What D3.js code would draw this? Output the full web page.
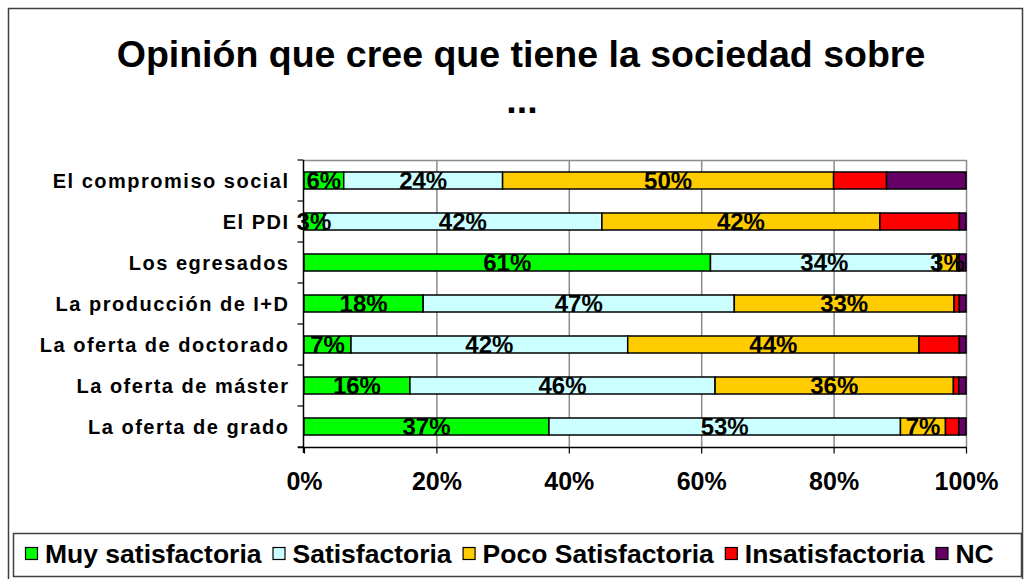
<!DOCTYPE html>
<html>
<head>
<meta charset="utf-8">
<script src="https://cdn.jsdelivr.net/npm/d3@7"></script>
<style>
  body { margin: 0; background: #fff; }
  svg { display: block; }
  text { font-family: "Liberation Sans", Arial, sans-serif; font-weight: bold; fill: #000; }
</style>
</head>
<body>
<div id="graph"></div>
<script>
// categories from top to bottom
var categories = ["El compromiso social", "El PDI", "Los egresados", "La producción de I+D",
                  "La oferta de doctorado", "La oferta de máster", "La oferta de grado"];
var seriesNames = ["Muy satisfactoria", "Satisfactoria", "Poco Satisfactoria", "Insatisfactoria", "NC"];
var seriesColors = ["#00ff00", "#ccffff", "#ffcc00", "#ff0000", "#660066"];
// percentages per category, one array per series
var muySatisfactoria = [6, 3, 61.4, 18, 7.1, 16, 37];
var satisfactoria    = [24, 42, 34.4, 47, 41.8, 46.1, 53.1];
var pocoSatisfactoria = [50, 42, 2.8, 33.2, 44, 36, 6.8];
var insatisfactoria  = [8, 12, 0.4, 0.8, 6.1, 0.8, 2];
var nc               = [12, 1, 1, 1, 1, 1.1, 1.1];
var tickValues = [0, 20, 40, 60, 80, 100];
var labelledSeries = 3; // only the first three series carry value labels

var width = 1025, height = 579;
var margin = {top: 160, left: 304, right: 59, bottom: 132};

var rows = categories.map(function(c, i) {
    return {cat: c, values: [muySatisfactoria[i], satisfactoria[i], pocoSatisfactoria[i], insatisfactoria[i], nc[i]]};
});

var svg = d3.select("#graph").append("svg")
    .attr("width", width)
    .attr("height", height);

// outer chart border
svg.append("rect")
    .attr("x", 8.5).attr("y", 8.5)
    .attr("width", 1014).attr("height", 600)
    .attr("fill", "none").attr("stroke", "#404040").attr("stroke-width", 1.5);

// title
svg.append("text")
    .attr("x", 521).attr("y", 67)
    .attr("text-anchor", "middle")
    .style("font-size", "37.5px")
    .text("Opinión que cree que tiene la sociedad sobre");
svg.append("text")
    .attr("x", 522).attr("y", 113)
    .attr("text-anchor", "middle")
    .style("font-size", "37.5px")
    .text("...");

var x = d3.scaleLinear().domain([0, 100]).range([margin.left, width - margin.right]);
var y = d3.scaleBand().domain(categories).range([margin.top, height - margin.bottom]).paddingInner(0.585).paddingOuter(0.2925);

// gridlines
svg.append("g")
    .selectAll("line")
    .data(tickValues.slice(1))
    .enter().append("line")
    .attr("x1", function(d) { return x(d) + 0.5; })
    .attr("x2", function(d) { return x(d) + 0.5; })
    .attr("y1", margin.top)
    .attr("y2", height - margin.bottom)
    .attr("stroke", "#8c8c8c").attr("stroke-width", 1.5);
svg.append("line")
    .attr("x1", margin.left).attr("x2", width - margin.right + 1)
    .attr("y1", margin.top + 0.5).attr("y2", margin.top + 0.5)
    .attr("stroke", "#8c8c8c").attr("stroke-width", 1.5);

// stacked bars
var cum = rows.map(function(r) {
    var acc = 0;
    return r.values.map(function(v, k) {
        var s = {cat: r.cat, k: k, x0: acc, x1: acc + v, v: v};
        acc += v;
        return s;
    });
});

var rowG = svg.append("g").selectAll("g")
    .data(cum)
    .enter().append("g");

rowG.selectAll("rect")
    .data(function(d) { return d; })
    .enter().append("rect")
    .attr("x", function(d) { return x(d.x0); })
    .attr("width", function(d) { return x(d.x1) - x(d.x0); })
    .attr("y", function(d) { return y(d.cat); })
    .attr("height", y.bandwidth())
    .attr("fill", function(d) { return seriesColors[d.k]; })
    .attr("stroke", "#000").attr("stroke-width", 1.5);

rowG.selectAll("text")
    .data(function(d) { return d.filter(function(s) { return s.k < labelledSeries; }); })
    .enter().append("text")
    .attr("x", function(d) { return (x(d.x0) + x(d.x1)) / 2; })
    .attr("y", function(d) { return y(d.cat) + y.bandwidth() / 2 + 8.5; })
    .attr("text-anchor", "middle")
    .style("font-size", "24px")
    .text(function(d) { return Math.round(d.v) + "%"; });

// left axis
var yAxis = svg.append("g")
    .attr("transform", "translate(" + (margin.left - 0.5) + ",0)");
yAxis.append("line")
    .attr("x1", 0).attr("x2", 0)
    .attr("y1", margin.top).attr("y2", height - margin.bottom + 6)
    .attr("stroke", "#000").attr("stroke-width", 1.5);
var step = y.step();
yAxis.selectAll(".tick")
    .data(d3.range(categories.length + 1))
    .enter().append("line")
    .attr("x1", -6).attr("x2", 0)
    .attr("y1", function(i) { return margin.top + i * step; })
    .attr("y2", function(i) { return margin.top + i * step; })
    .attr("stroke", "#000").attr("stroke-width", 1.2);
yAxis.selectAll("text")
    .data(categories)
    .enter().append("text")
    .attr("x", -14)
    .attr("y", function(d) { return y(d) + y.bandwidth() / 2 + 7; })
    .attr("text-anchor", "end")
    .style("font-size", "20px")
    .style("letter-spacing", "1.5px")
    .text(function(d) { return d; });

// bottom axis
var xAxis = svg.append("g")
    .attr("transform", "translate(0," + (height - margin.bottom + 0.5) + ")")
    .call(d3.axisBottom(x).tickValues(tickValues).tickSize(6).tickFormat(function(d) { return d + "%"; }));
xAxis.select(".domain").attr("stroke", "#000").attr("stroke-width", 1.5)
    .attr("d", "M" + (margin.left - 6) + ",0H" + (width - margin.right + 1));
xAxis.selectAll(".tick line").attr("stroke", "#000").attr("stroke-width", 1.2);
xAxis.selectAll(".tick text")
    .attr("y", 42).attr("dy", null)
    .style("font-family", "'Liberation Sans', Arial, sans-serif")
    .style("font-weight", "bold")
    .style("font-size", "25px")
    .attr("fill", "#000");

// legend
svg.append("rect")
    .attr("x", 13.5).attr("y", 533.5)
    .attr("width", 1008).attr("height", 43)
    .attr("fill", "#fff").attr("stroke", "#404040").attr("stroke-width", 1.5);
var lx = 25;
seriesNames.forEach(function(name, k) {
    svg.append("rect")
        .attr("x", lx + 0.5).attr("y", 547.5)
        .attr("width", 12).attr("height", 12)
        .attr("fill", seriesColors[k]).attr("stroke", "#000").attr("stroke-width", 1.2);
    var t = svg.append("text")
        .attr("x", lx + 20).attr("y", 563)
        .style("font-size", "26.5px")
        .text(name);
    lx = lx + 20 + t.node().getComputedTextLength() + 11;
});
</script>
</body>
</html>
